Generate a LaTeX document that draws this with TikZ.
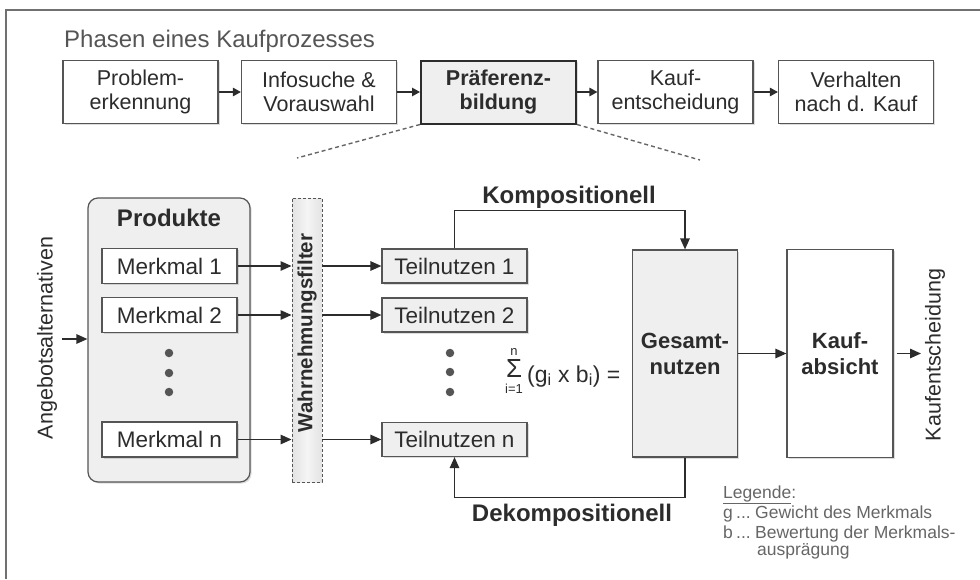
\documentclass[tikz,border=0pt]{standalone}
\usepackage{fontspec}
\usepackage{graphicx}
\setmainfont{Liberation Sans}
\usetikzlibrary{arrows.meta,shadows,calc}
\definecolor{txt}{HTML}{2C2C2C}
\definecolor{edge}{HTML}{555555}
\definecolor{boxfill}{HTML}{EFEFEF}
\definecolor{soft}{HTML}{666666}
\definecolor{titlegray}{HTML}{555555}
\definecolor{outline}{HTML}{707070}

\begin{document}
\begin{tikzpicture}[x=1pt,y=1pt,
  shade box/.style={drop shadow={shadow xshift=1.6pt,shadow yshift=-1.6pt,opacity=0.28}},
  phase/.style={draw=edge,line width=1.2pt,fill=white,minimum width=155pt,minimum height=63pt,
    inner sep=0pt,align=center,text=txt,font=\fontsize{21.5}{24}\selectfont,shade box},
  activephase/.style={phase,fill=boxfill,draw=txt,line width=2pt,font=\fontsize{21.5}{24}\selectfont\bfseries},
  feature/.style={draw=edge,line width=1.2pt,fill=white,minimum width=135pt,minimum height=35pt,
    inner sep=0pt,text=txt,font=\fontsize{22.5}{26}\selectfont,shade box},
  partial/.style={feature,fill=boxfill,minimum width=145pt,minimum height=34pt},
  tallbox/.style={draw=edge,line width=1.2pt,minimum width=105pt,minimum height=207pt,inner sep=0pt,
    align=center,text=txt,font=\fontsize{22}{26}\selectfont\bfseries,shade box},
  heading/.style={text=txt,font=\fontsize{24}{28}\selectfont\bfseries,inner sep=0pt},
  sidetext/.style={rotate=90,text=txt,font=\fontsize{21.5}{25}\selectfont,inner sep=0pt},
  legendtext/.style={text=soft,font=\fontsize{17.5}{20}\selectfont,inner sep=0pt,anchor=base west},
  sumpart/.style={text=txt,font=\fontsize{13}{15}\selectfont,inner sep=0pt},
  dot/.style={circle,fill=edge,minimum size=8.5pt,inner sep=0pt},
  flow/.style={draw=txt,line width=1.3pt,-{Triangle[length=11pt,width=9.5pt]}},
  smallflow/.style={draw=txt,line width=1.3pt,-{Triangle[length=8pt,width=8.5pt]}},
  zoomline/.style={draw=soft,line width=1.4pt,dash pattern=on 4pt off 3pt}
]
\useasboundingbox (0,0) rectangle (980,-579);

% outer frame (top and left edge)
\draw[outline,line width=2.6pt] (6,-579) -- (6,-10) -- (980,-10);

% phases of the buying process
\node[text=titlegray,font=\fontsize{24}{28}\selectfont,inner sep=0pt,anchor=base west] (title) at (64,-47) {Phasen eines Kaufprozesses};
\node[phase] (p1) at (140.5,-92) {Problem-\\erkennung};
\node[phase] (p2) at (319,-92) {Infosuche \&\\Vorauswahl};
\node[activephase] (p3) at (498.5,-92) {Präferenz-\\bildung};
\node[phase] (p4) at (675.5,-92) {Kauf-\\entscheidung};
\node[phase] (p5) at (856,-92) {Verhalten\\nach d. Kauf};
\draw[smallflow] (p1) -- (p2);
\draw[smallflow] (p2) -- (p3);
\draw[smallflow] (p3) -- (p4);
\draw[smallflow] (p4) -- (p5);

% zoom lines from the highlighted phase
\coordinate (zl) at (297,-158);
\coordinate (zr) at (700,-160);
\draw[zoomline] (p3.south west) -- (zl);
\draw[zoomline] (p3.south east) -- (zr);

% products with their features
\node[draw=edge,line width=1.2pt,fill=boxfill,rounded corners=10pt,minimum width=162pt,minimum height=284pt,shade box] (prod) at (169,-340) {};
\node[heading,anchor=base] (prodtitle) at (169,-226) {Produkte};
\node[feature] (m1) at (169.5,-266) {Merkmal 1};
\node[feature] (m2) at (169.5,-315) {Merkmal 2};
\node[feature] (mn) at (169.5,-439.5) {Merkmal n};
\node[dot] (md1) at (169,-353) {};
\node[dot] (md2) at (169,-373) {};
\node[dot] (md3) at (169,-392) {};

% incoming alternatives
\node[sidetext] (angtext) at (47,-338) {Angebotsalternativen};
\coordinate (ang) at (62,-339);
\draw[flow] (ang) -- (ang -| prod.west);

% perception filter
\node[draw=edge,line width=0.9pt,dash pattern=on 3pt off 2pt,left color=gray!22,right color=gray!22,middle color=gray!8,
  minimum width=30pt,minimum height=284pt,inner sep=0pt] (filter) at (307,-340) {};
\node[text=txt,rotate=90,font=\fontsize{20.5}{24}\selectfont\bfseries,inner sep=0pt] (filtertext) at (307,-333) {Wahrnehmungsfilter};

% partial utilities
\node[partial] (t1) at (454.5,-266) {Teilnutzen 1};
\node[partial] (t2) at (454.5,-315) {Teilnutzen 2};
\node[partial] (tn) at (454.5,-439.5) {Teilnutzen n};
\node[dot] (td1) at (450,-353) {};
\node[dot] (td2) at (450,-372) {};
\node[dot] (td3) at (450,-392) {};

\draw[flow] (m1.east) -- (m1.east -| filter.west);
\draw[flow] (m2.east) -- (m2.east -| filter.west);
\draw[flow] (mn.east) -- (mn.east -| filter.west);
\draw[flow] (filter.east |- t1) -- (t1.west);
\draw[flow] (filter.east |- t2) -- (t2.west);
\draw[flow] (filter.east |- tn) -- (tn.west);

% weighted sum
\node[text=txt,inner sep=0pt,anchor=base] (sigma) at (514,-377)
  {\fontsize{20}{24}\selectfont\resizebox{16pt}{18pt}{Σ}};
\node[sumpart] (sumtop) at (514,-352) {n};
\node[sumpart] (sumbot) at (514,-389) {i=1};
\node[text=txt,font=\fontsize{23}{27}\selectfont,inner sep=0pt,anchor=base west] (sumterm) at (527,-382)
  {(g\textsubscript{i} x b\textsubscript{i}) =};

% total utility and purchase intention
\node[tallbox,fill=boxfill] (gesamt) at (685,-353.5) {Gesamt-\\nutzen};
\node[tallbox,fill=white,minimum width=106pt,minimum height=208pt] (kauf) at (840,-353.5) {Kauf-\\absicht};
\draw[flow] (gesamt) -- (kauf);
\coordinate (ke) at (921,-353.5);
\draw[flow,shorten <=3pt] (kauf.east) -- (ke);
\node[sidetext] (ketext) at (935,-355) {Kaufentscheidung};

% compositional and decompositional paths
\draw[flow] (t1.north) -- ++(0,38) -| (gesamt.north);
\node[heading,anchor=base] (komp) at (569,-203) {Kompositionell};
\draw[flow] (gesamt.south) -- ++(0,-40) -| (tn.south);
\node[heading,anchor=base] (dekomp) at (572,-521) {Dekompositionell};

% legend
\node[legendtext] (leg) at (723,-498) {\underline{Legende}:};
\node[legendtext] (gkey) at (723,-518) {g};
\node[legendtext] (gdots) at (736,-518) {...};
\node[legendtext] (gdesc) at (755,-518) {Gewicht des Merkmals};
\node[legendtext] (bkey) at (723,-538) {b};
\node[legendtext] (bdots) at (736,-538) {...};
\node[legendtext] (bdesc) at (755,-538) {Bewertung der Merkmals-};
\node[legendtext] (bdesc2) at (757,-555) {ausprägung};
\end{tikzpicture}
\end{document}
